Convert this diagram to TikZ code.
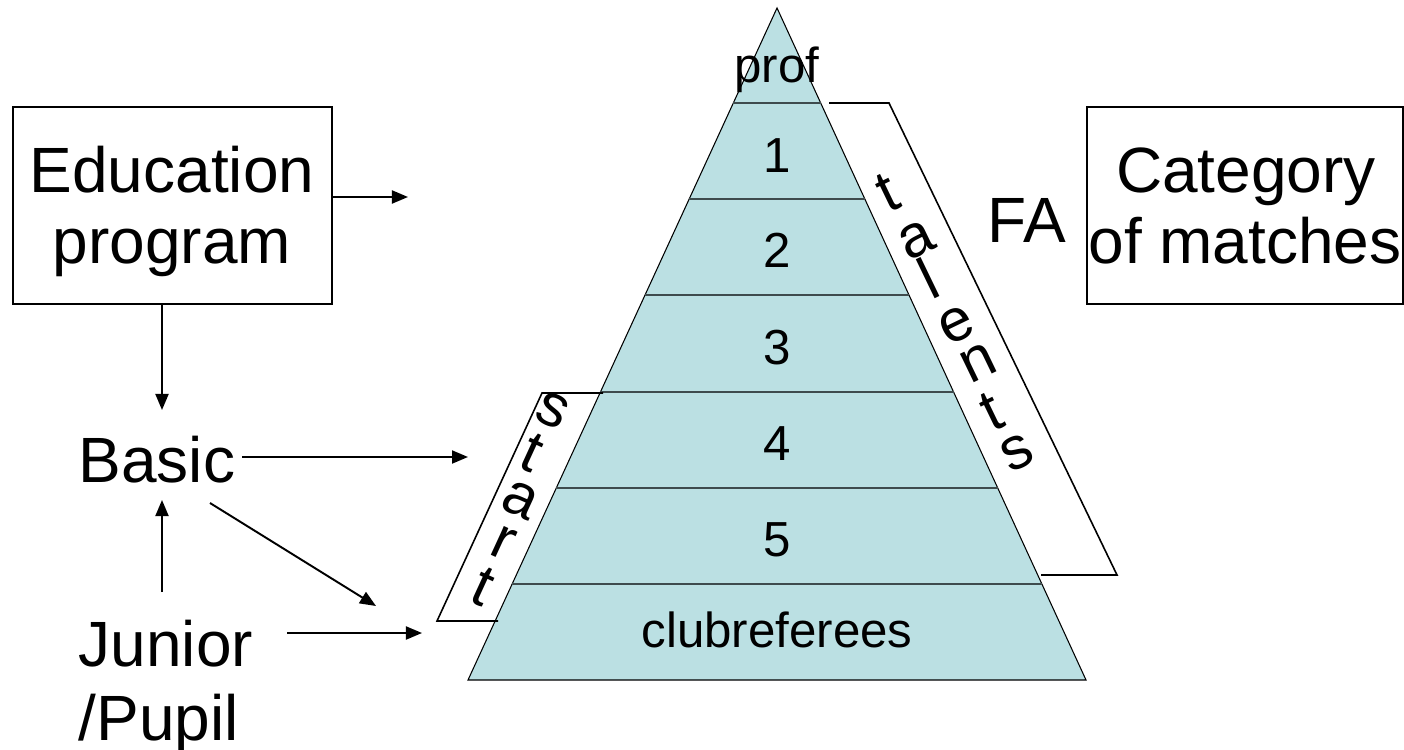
\documentclass[tikz,border=0pt]{standalone}
\usepackage{fontspec}
\setmainfont{Liberation Sans}
\usepackage{tikz}
\usetikzlibrary{calc}
\usetikzlibrary{arrows.meta}
\usetikzlibrary{positioning}
\definecolor{tierfill}{HTML}{BBE0E3}
\definecolor{tierline}{HTML}{3E4B4D}
\newcommand{\bigtext}{\fontsize{18.2}{21}\selectfont}
\newcommand{\tiertext}{\fontsize{14}{16}\selectfont}
\newcommand{\slanttext}{\fontsize{17}{19}\selectfont}

\begin{document}
\begin{tikzpicture}[
x=0.01cm, y=-0.01cm,
Box/.style={draw=black,line width=0.45pt,inner sep=0pt},
BigLabel/.style={font=\bigtext,anchor=base,inner sep=0pt},
TierLabel/.style={font=\tiertext,anchor=base,inner sep=0pt},
SlantLabel/.style={font=\slanttext,inner sep=0pt},
Flow/.style={-{Triangle[length=1.6mm, width=1.3mm]},line width=0.55pt},
Bracket/.style={draw=black,line width=0.45pt},
Tier/.style={draw=tierline,line width=0.6pt},
every node/.style={scale=1}
]
\useasboundingbox (0,0) rectangle (1404,749);

% the pyramid of referee categories
\coordinate (Apex) at (777,8);
\coordinate (BaseL) at (468,680);
\coordinate (BaseR) at (1086,680);
\filldraw[fill=tierfill,draw=black,line width=0.3pt] (Apex) -- (BaseL) -- (BaseR) -- cycle;

\foreach \y in {103,199,295,392,488,584}{
  \pgfmathsetmacro{\hw}{0.4598*(\y-8)}
  \draw[Tier] (777-\hw,\y) -- (777+\hw,\y);
}

\node[TierLabel] (prof) at (777,83) {prof};
\foreach \n/\y in {1/173,2/268,3/364,4/460,5/556}
  \node[TierLabel] (tier\n) at (777,\y) {\n};
\node[TierLabel] (club) at (777,647) {clubreferees};

% brackets along the sides
\coordinate (talTL) at (829,103);
\coordinate (talTR) at (889,103);
\coordinate (talBR) at (1117,575);
\coordinate (talBL) at (1041,575);
\draw[Bracket] (talTL) -- (talTR) -- (talBR) -- (talBL);

\coordinate (staTR) at (603,393);
\coordinate (staTL) at (542,393);
\coordinate (staBL) at (437,621);
\coordinate (staBR) at (498,621);
\draw[Bracket] (staTR) -- (staTL) -- (staBL) -- (staBR);

\foreach \l/\x/\y [count=\i] in {t/888/193,a/917/240,l/928/278,e/957/325,n/978/363,t/992/412,s/1017/453}
  \node[SlantLabel,rotate=25.8] (tal\i) at (\x,\y) {\l};
\foreach \l/\x/\y [count=\i] in {s/553/410,t/532/453,a/520/500,r/503/543,t/483/587}
  \node[SlantLabel,rotate=-24.7] (sta\i) at (\x,\y) {\l};

% boxes and labels
\node[Box,minimum width=3.19cm,minimum height=1.97cm] (edu) at (172.5,205.5) {};
\node[BigLabel] (eduA) at (172,193) {Education};
\node[BigLabel] (eduB) at (172,264) {program};

\node[Box,minimum width=3.16cm,minimum height=1.97cm] (cat) at (1245,205.5) {};
\node[BigLabel] (catA) at (1246,193) {Category};
\node[BigLabel] (catB) at (1245,264) {of matches};

\node[BigLabel] (fa) at (1027,243) {FA};
\node[BigLabel,anchor=base west] (basic) at (78,482) {Basic};
\node[BigLabel,anchor=base west] (junior) at (78,666) {Junior};
\node[BigLabel,anchor=base west] (pupil) at (78,740) {/Pupil};

% arrows
\coordinate (eduOut) at (408,197);
\draw[Flow] (edu.east |- eduOut) -- (eduOut);

\coordinate (basicIn) at (162,410);
\draw[Flow] (edu.south -| basicIn) -- (basicIn);

\coordinate (basicOut) at (242,457);
\coordinate (startIn) at (468,457);
\draw[Flow] (basicOut) -- (startIn);

\coordinate (juniorUp) at (162,592);
\coordinate (basicBelow) at (162,500);
\draw[Flow] (juniorUp) -- (basicBelow);

\coordinate (basicDiag) at (210,503);
\coordinate (startLow) at (376,606);
\draw[Flow] (basicDiag) -- (startLow);

\coordinate (juniorOut) at (287,633);
\coordinate (startBase) at (422,633);
\draw[Flow] (juniorOut) -- (startBase);

\end{tikzpicture}
\end{document}
